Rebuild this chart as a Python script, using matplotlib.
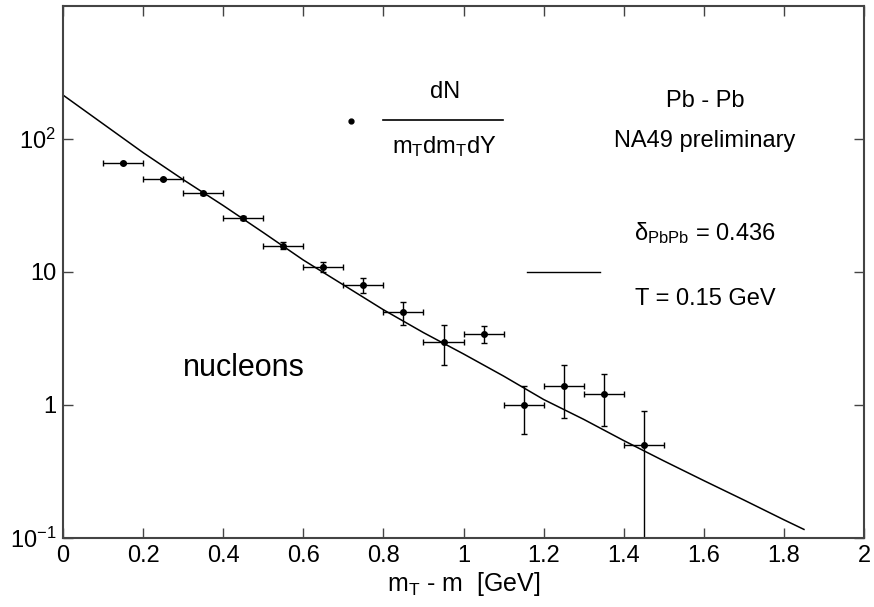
import numpy as np
import matplotlib
matplotlib.use("Agg")
import matplotlib.pyplot as plt

plt.rcParams['font.family'] = ['Liberation Sans', 'DejaVu Sans']
plt.rcParams['mathtext.fontset'] = 'custom'
plt.rcParams['mathtext.rm'] = 'Liberation Sans'
plt.rcParams['mathtext.it'] = 'Liberation Sans:italic'

# ---------------- data ----------------
mt = [0.15, 0.25, 0.35, 0.45, 0.55, 0.65, 0.75, 0.85, 0.95, 1.05, 1.15, 1.25, 1.35, 1.45]
dn = [66, 50, 39, 25.5, 15.8, 10.9, 8.0, 5.0, 3.0, 3.4, 1.0, 1.4, 1.2, 0.5]
dn_err = [1.5, 1.2, 1.0, 0.8, 1.0, 0.9, 1.0, 1.0, 1.0, 0.5, 0.4, 0.6, 0.5, 0.4]
mt_err = [0.05] * len(mt)

# fitted curve
fit_x = [0.0, 0.1, 0.2, 0.3, 0.4, 0.5, 0.6, 0.7, 0.8, 0.9, 1.0, 1.1, 1.2, 1.3, 1.4, 1.5, 1.6, 1.7, 1.8, 1.85]
fit_y = [214, 130, 79, 49.5, 31.6, 19.8, 12.3, 8.0, 5.2, 3.5, 2.42, 1.65, 1.1, 0.78, 0.54, 0.38, 0.27, 0.193, 0.137, 0.116]

xticks = [0, 0.2, 0.4, 0.6, 0.8, 1.0, 1.2, 1.4, 1.6, 1.8, 2.0]
xtick_labels = ["0", "0.2", "0.4", "0.6", "0.8", "1", "1.2", "1.4", "1.6", "1.8", "2"]
yticks = [0.1, 1, 10, 100]
ytick_labels = [r"$\mathregular{10^{-1}}$", "1", "10", r"$\mathregular{10^{2}}$"]

# ---------------- plot ----------------
fig = plt.figure(figsize=(8.74, 6.07), dpi=100)
ax = fig.add_axes([0.0721, 0.1137, 0.9165, 0.8764])

ax.plot(fit_x, fit_y, color='black', linewidth=1.1)
ax.errorbar(mt, dn, xerr=mt_err, yerr=dn_err, fmt='o', color='black',
            markersize=4, elinewidth=1, capsize=2.5, capthick=1)

ax.set_yscale('log')
ax.set_xlim(0, 2)
ax.set_ylim(0.1, 1000)
ax.set_xticks(xticks)
ax.set_xticklabels(xtick_labels)
ax.set_yticks(yticks)
ax.set_yticklabels(ytick_labels)
ax.yaxis.set_minor_locator(matplotlib.ticker.NullLocator())
ax.tick_params(direction='in', length=7, width=1, top=True, right=True,
               labelsize=17, color='#444444', pad=5)
for sp in ax.spines.values():
    sp.set_linewidth(1.5)
    sp.set_color('#444444')

ax.set_xlabel(r"m$_\mathregular{T}$ - m  [GeV]", fontsize=18, labelpad=2)

# "legend" drawn by hand, as in the original
ax.plot([0.72], [136], 'o', color='black', markersize=3.5)
ax.text(0.953, 226, "dN", ha='center', va='center', fontsize=17)
ax.plot([0.3995, 0.549], [0.786, 0.786], transform=ax.transAxes,
        color='black', linewidth=1.2)
ax.text(0.953, 88, r"m$_\mathregular{T}$dm$_\mathregular{T}$dY", ha='center', va='center', fontsize=17)

ax.text(1.603, 192, "Pb - Pb", ha='center', va='center', fontsize=17)
ax.text(1.603, 96, "NA49 preliminary", ha='center', va='center', fontsize=17)
ax.text(1.603, 19.6, r"$\mathregular{\delta_{PbPb}}$ = 0.436", ha='center', va='center', fontsize=17)
ax.text(1.603, 6.3, "T = 0.15 GeV", ha='center', va='center', fontsize=17)
ax.plot([0.579, 0.67], [0.5, 0.5], transform=ax.transAxes,
        color='black', linewidth=1.0)

ax.text(0.452, 1.9, "nucleons", ha='center', va='center', fontsize=22)

fig.savefig("out.png", dpi=100)
